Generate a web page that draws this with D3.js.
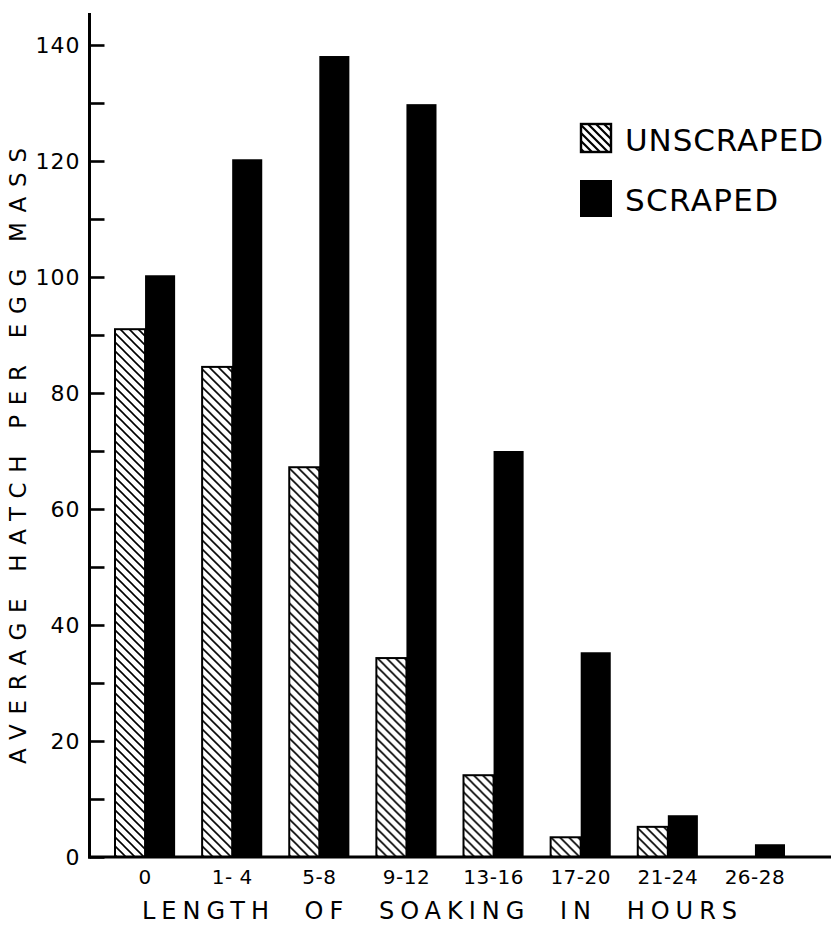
<!DOCTYPE html>
<html>
<head>
<meta charset="utf-8">
<script src="https://cdn.jsdelivr.net/npm/d3@7"></script>
<style>
  html, body { margin: 0; padding: 0; background: #fff; }
  svg { display: block; }
  text { font-family: "DejaVu Sans", sans-serif; fill: #000; }
</style>
</head>
<body>
<svg id="chart" width="831" height="926"></svg>
<script>
// ---- data ----
const categories = ["0", "1- 4", "5-8", "9-12", "13-16", "17-20", "21-24", "26-28"];
const unscraped = [91, 84.5, 67.2, 34.3, 14.1, 3.4, 5.2, null];
const scraped   = [100.3, 120.3, 138.1, 129.8, 70, 35.3, 7.2, 2.2];
const seriesNames = ["UNSCRAPED", "SCRAPED"];
const yMajorTicks = [0, 20, 40, 60, 80, 100, 120, 140];
const yMinorTicks = [10, 30, 50, 70, 90, 110, 130];
const xTitle = "LENGTH OF SOAKING IN HOURS";
const yTitle = "AVERAGE HATCH PER EGG MASS";

// ---- layout ----
const svg = d3.select("#chart");
const ink = "#000";
const axisX = 89.5;

const y = d3.scaleLinear().domain([0, 140]).range([857, 45]);
const x = d3.scaleBand().domain(categories).range([115, 785]).paddingInner(0.31).paddingOuter(0);
const xs = d3.scaleBand().domain(seriesNames).range([0, x.bandwidth()]).padding(0);

// hatch pattern
const defs = svg.append("defs");
defs.append("pattern")
  .attr("id", "hatch").attr("patternUnits", "userSpaceOnUse")
  .attr("width", 9).attr("height", 9)
  .append("path")
  .attr("d", "M0,0 L9,9 M-2,7 L2,11 M7,-2 L11,2")
  .attr("stroke", ink).attr("stroke-width", 1.6);
defs.append("pattern")
  .attr("id", "hatchLegend").attr("patternUnits", "userSpaceOnUse")
  .attr("width", 8).attr("height", 8)
  .append("path")
  .attr("d", "M0,0 L8,8 M-2,6 L2,10 M6,-2 L10,2")
  .attr("stroke", ink).attr("stroke-width", 2.2);

// bars
const groups = svg.append("g").selectAll("g")
  .data(categories.map((c, i) => ({ c, vals: [unscraped[i], scraped[i]] })))
  .join("g")
  .attr("transform", d => `translate(${x(d.c)},0)`);

groups.selectAll("rect")
  .data(d => d.vals.map((v, j) => ({ v, s: seriesNames[j] })).filter(e => e.v != null))
  .join("rect")
  .attr("x", e => xs(e.s))
  .attr("width", xs.bandwidth())
  .attr("y", e => y(e.v))
  .attr("height", e => y(0) - y(e.v))
  .attr("fill", e => e.s === "UNSCRAPED" ? "url(#hatch)" : ink)
  .attr("stroke", ink)
  .attr("stroke-width", e => e.s === "UNSCRAPED" ? 2 : 0);

// y axis: major ticks with labels, ticks pointing right
const yAxis = d3.axisLeft(y).tickValues(yMajorTicks).tickSize(-15).tickPadding(9).tickFormat(d3.format("d"));
const gy = svg.append("g").attr("transform", `translate(${axisX},0)`).call(yAxis);
gy.select(".domain").remove();
gy.selectAll(".tick line").attr("stroke", ink).attr("stroke-width", 2.6);
gy.selectAll(".tick text").style("font-size", "22px").style("letter-spacing", "1px").attr("fill", ink).attr("dy", "0.36em");

const yMinor = d3.axisLeft(y).tickValues(yMinorTicks).tickSize(-15).tickFormat("");
const gym = svg.append("g").attr("transform", `translate(${axisX},0)`).call(yMinor);
gym.select(".domain").remove();
gym.selectAll(".tick line").attr("stroke", ink).attr("stroke-width", 2.6);

// axis lines
svg.append("line").attr("x1", axisX).attr("x2", axisX).attr("y1", 13).attr("y2", y(0) + 1.5)
  .attr("stroke", ink).attr("stroke-width", 3);
svg.append("line").attr("x1", axisX - 1.5).attr("x2", 831).attr("y1", y(0)).attr("y2", y(0))
  .attr("stroke", ink).attr("stroke-width", 3);

// x axis category labels
const xAxis = d3.axisBottom(x).tickSize(0).tickPadding(13);
const gx = svg.append("g").attr("transform", `translate(0,${y(0)})`).call(xAxis);
gx.select(".domain").remove();
gx.selectAll(".tick text").style("font-size", "20px").style("letter-spacing", "0.5px").attr("fill", ink);

// axis titles
svg.append("text")
  .attr("x", 142).attr("y", 919)
  .style("font-size", "24px")
  .style("letter-spacing", "6px")
  .style("word-spacing", "16px")
  .text(xTitle);

svg.append("text")
  .attr("transform", "translate(26,456) rotate(-90)")
  .attr("text-anchor", "middle")
  .attr("textLength", 616).attr("lengthAdjust", "spacing")
  .style("font-size", "23px")
  .text(yTitle);

// legend
const legend = svg.append("g");
legend.append("rect").attr("x", 581).attr("y", 124).attr("width", 30).attr("height", 28)
  .attr("fill", "url(#hatchLegend)").attr("stroke", ink).attr("stroke-width", 2.4);
legend.append("rect").attr("x", 580).attr("y", 180).attr("width", 32).attr("height", 37)
  .attr("fill", ink);
legend.append("text").attr("x", 625).attr("y", 151)
  .attr("textLength", 198).attr("lengthAdjust", "spacing")
  .style("font-size", "31px").text(seriesNames[0]);
legend.append("text").attr("x", 625).attr("y", 211)
  .attr("textLength", 153).attr("lengthAdjust", "spacing")
  .style("font-size", "31px").text(seriesNames[1]);
</script>
</body>
</html>
